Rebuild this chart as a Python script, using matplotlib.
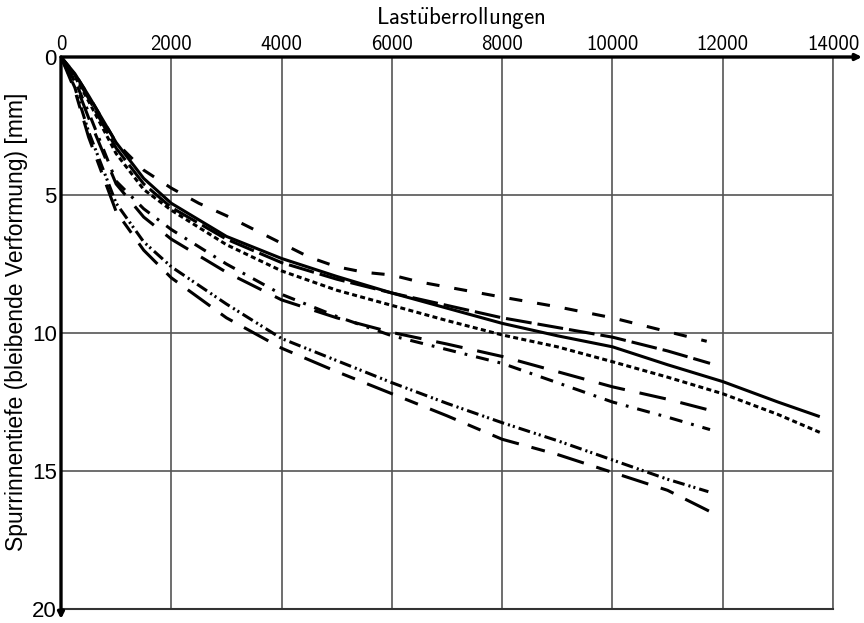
import matplotlib
matplotlib.use("Agg")
import matplotlib.pyplot as plt

plt.rcParams['lines.scale_dashes'] = False
plt.rcParams['mathtext.fontset'] = 'cm'

# Lastueberrollungen / Spurrinnentiefe [mm]
x_solid = [0, 250, 500, 1000, 1500, 2000, 3000, 4000, 5000, 6000, 7000, 8000, 9000, 10000, 11000, 12000, 13000, 13760]
y_solid = [0, 0.6, 1.4, 3.1, 4.4, 5.3, 6.5, 7.3, 7.95, 8.55, 9.1, 9.65, 10.1, 10.5, 11.15, 11.76, 12.5, 13.03]

x_dot = [0, 250, 500, 1000, 1500, 2000, 3000, 4000, 5000, 6000, 7000, 8000, 9000, 10000, 11000, 12000, 13000, 13760]
y_dot = [0, 0.7, 1.6, 3.5, 4.8, 5.55, 6.8, 7.75, 8.45, 9.0, 9.55, 10.07, 10.5, 11.04, 11.6, 12.2, 12.95, 13.6]

x_dash = [0, 250, 500, 1000, 1500, 2000, 2500, 3000, 3500, 4000, 4500, 5000, 5500, 6000, 6500, 8000, 9000, 10000, 11000, 11710]
y_dash = [0, 0.6, 1.4, 3.1, 4.1, 4.75, 5.3, 5.75, 6.25, 6.75, 7.25, 7.6, 7.8, 7.9, 8.15, 8.7, 9.05, 9.45, 9.95, 10.3]

x_long = [0, 250, 500, 1000, 1500, 2000, 3000, 4000, 5000, 6000, 7000, 8000, 9000, 10000, 11000, 11770]
y_long = [0, 0.65, 1.5, 3.3, 4.6, 5.45, 6.6, 7.45, 8.05, 8.55, 9.0, 9.45, 9.8, 10.15, 10.65, 11.1]

x_longgap = [0, 250, 500, 1000, 1500, 2000, 3000, 4000, 5000, 6000, 7000, 8000, 9000, 10000, 11000, 11770]
y_longgap = [0, 0.9, 2.2, 4.6, 5.8, 6.6, 7.8, 8.8, 9.45, 9.98, 10.4, 10.85, 11.4, 11.95, 12.4, 12.8]

x_dashdot = [0, 250, 500, 1000, 1500, 2000, 3000, 4000, 5000, 6000, 7000, 8000, 9000, 10000, 11000, 11770]
y_dashdot = [0, 0.85, 2.0, 4.5, 5.5, 6.25, 7.5, 8.6, 9.4, 10.1, 10.6, 11.1, 11.8, 12.5, 13.05, 13.5]

x_dashdotdot = [0, 250, 500, 1000, 1500, 2000, 3000, 4000, 5000, 6000, 7000, 8000, 9000, 10000, 11000, 11740]
y_dashdotdot = [0, 1.1, 2.7, 5.3, 6.7, 7.6, 8.95, 10.2, 11.0, 11.8, 12.55, 13.25, 13.9, 14.6, 15.3, 15.75]

x_bottom = [0, 250, 500, 1000, 1500, 2000, 3000, 4000, 5000, 6000, 7000, 8000, 9000, 10000, 11000, 11750]
y_bottom = [0, 1.2, 2.9, 5.6, 7.0, 8.0, 9.45, 10.55, 11.4, 12.2, 13.0, 13.85, 14.4, 15.05, 15.7, 16.45]

xticks = [0, 2000, 4000, 6000, 8000, 10000, 12000, 14000]
yticks = [0, 5, 10, 15, 20]

W, H = 864, 623
fig = plt.figure(figsize=(W / 100, H / 100), dpi=100)
L, R, T, B = 61, 833, 57, 609
ax = fig.add_axes([L / W, 1 - B / H, (R - L) / W, (B - T) / H])

lw = 2.2
k = 'black'
ax.plot(x_solid, y_solid, color=k, lw=lw, solid_capstyle='butt')
ax.plot(x_dot, y_dot, color=k, lw=lw, linestyle=(0, (3.6, 2.4)), dash_capstyle='butt')
ax.plot(x_dash, y_dash, color=k, lw=lw, linestyle=(0, (9.4, 10.8)), dash_capstyle='butt')
ax.plot(x_long, y_long, color=k, lw=lw, linestyle=(0, (18.7, 4.3)), dash_capstyle='butt')
ax.plot(x_longgap, y_longgap, color=k, lw=lw, linestyle=(0, (19.4, 10.8)), dash_capstyle='butt')
ax.plot(x_dashdot, y_dashdot, color=k, lw=lw, linestyle=(0, (9.4, 6.5, 2, 6.5)), dash_capstyle='butt')
ax.plot(x_dashdotdot, y_dashdotdot, color=k, lw=lw,
        linestyle=(0, (8.6, 2.9, 1.5, 2.2, 1.5, 2.9)), dash_capstyle='butt')
ax.plot(x_bottom, y_bottom, color=k, lw=lw, linestyle=(0, (20, 9.4, 10, 9.4)), dash_capstyle='butt')

ax.set_xlim(0, 14000)
ax.set_ylim(20, 0)
ax.set_xticks(xticks)
ax.set_yticks(yticks)
ax.xaxis.tick_top()
ax.tick_params(axis='x', length=0, pad=2)
ax.tick_params(axis='y', length=0, pad=3)
ax.grid(True, color='#555555', lw=1.2)
ax.set_axisbelow(True)

tick_font = ['cmss10', 'DejaVu Sans']
for lab in ax.get_xticklabels():
    lab.set_fontfamily(tick_font)
    lab.set_fontsize(15)
for lab in ax.get_yticklabels():
    lab.set_fontfamily(['Liberation Sans'])
    lab.set_fontsize(16)

for s in ['top', 'left']:
    ax.spines[s].set_visible(False)
ax.spines['right'].set_color('#666666')
ax.spines['right'].set_linewidth(1.3)
ax.spines['bottom'].set_color('#333333')
ax.spines['bottom'].set_linewidth(1.5)

# axis lines with arrow heads
ax.annotate('', xy=((862 - L) / (R - L), 1), xytext=(0, 1), xycoords='axes fraction',
            arrowprops=dict(arrowstyle='-|>', lw=2.4, color='black', mutation_scale=9,
                            shrinkA=0, shrinkB=0), annotation_clip=False)
ax.annotate('', xy=(0, -(619 - B) / (B - T)), xytext=(0, 1), xycoords='axes fraction',
            arrowprops=dict(arrowstyle='-|>', lw=2.4, color='black', mutation_scale=9,
                            shrinkA=0, shrinkB=0), annotation_clip=False)

fig.text(461 / W, 1 - 18 / H, r'$\mathsf{Last\ddot{u}berrollungen}$', ha='center', va='center',
         fontsize=16.5)
fig.text(17 / W, 1 - 322 / H, 'Spurrinnentiefe (bleibende Verformung) [mm]', rotation=90,
         ha='center', va='center', fontsize=16.5, family=['Liberation Sans'])

fig.savefig('out.png', dpi=100)
